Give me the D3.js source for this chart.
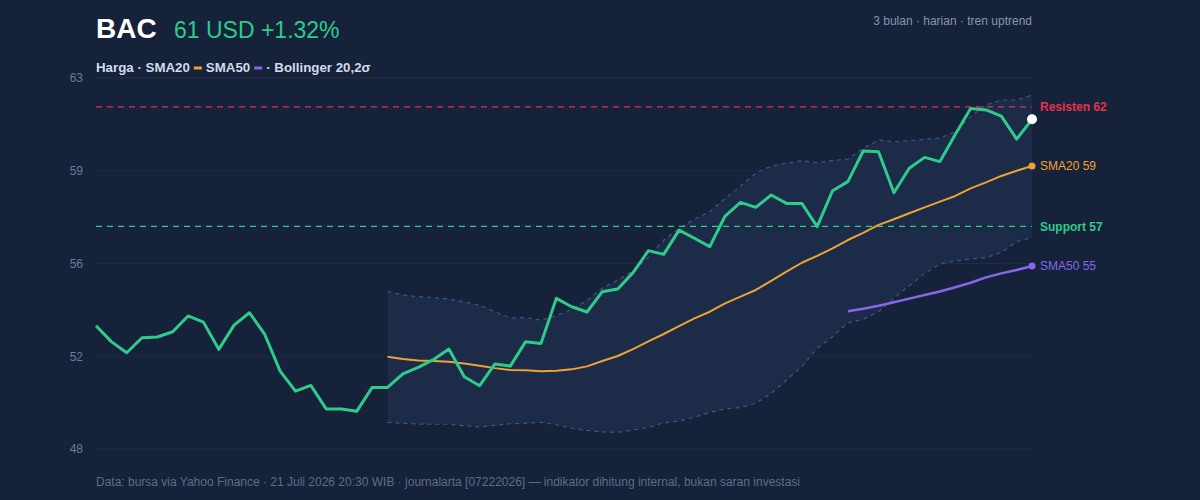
<!DOCTYPE html>
<html>
<head>
<meta charset="utf-8">
<script src="https://cdn.jsdelivr.net/npm/d3@7"></script>
<style>
  html, body { margin: 0; padding: 0; background: #152239; }
  svg { display: block; font-family: "Liberation Sans", Arial, sans-serif; }
</style>
</head>
<body>
<script>
// Harga penutupan harian (62 hari)
const price = [
  52.98, 52.34, 51.89, 52.50, 52.53, 52.74, 53.38, 53.13, 52.03, 53.01,
  53.51, 52.63, 51.15, 50.34, 50.57, 49.62, 49.62, 49.53, 50.49, 50.49,
  51.04, 51.30, 51.62, 52.04, 50.92, 50.56, 51.44, 51.35, 52.34, 52.27,
  54.09, 53.75, 53.54, 54.36, 54.47, 55.13, 56.02, 55.87, 56.85, 56.52,
  56.18, 57.42, 57.97, 57.77, 58.27, 57.93, 57.93, 56.99, 58.44, 58.81,
  60.05, 60.02, 58.36, 59.35, 59.79, 59.62, 60.72, 61.77, 61.71, 61.46,
  60.53, 61.33
];

// SMA20 dari hari ke-19
const sma20Start = 19;
const sma20 = [
  51.73, 51.64, 51.58, 51.56, 51.53, 51.46, 51.37, 51.27, 51.19, 51.18,
  51.14, 51.16, 51.22, 51.34, 51.56, 51.76, 52.04, 52.35, 52.65, 52.97,
  53.28, 53.55, 53.89, 54.16, 54.43, 54.80, 55.17, 55.53, 55.81, 56.11,
  56.45, 56.74, 57.06, 57.29, 57.53, 57.77, 58.00, 58.23, 58.54, 58.78,
  59.04, 59.25, 59.44
];

// SMA50 dari hari ke-49
const sma50Start = 49;
const sma50 = [
  53.57, 53.67, 53.79, 53.93, 54.08, 54.23, 54.37, 54.54, 54.72, 54.94,
  55.10, 55.24, 55.40
];

// Bollinger 20,2σ (mulai hari ke-19)
const bbUpper = [
  54.36, 54.23, 54.16, 54.13, 54.06, 53.95, 53.82, 53.55, 53.30, 53.31,
  53.21, 53.39, 53.65, 54.00, 54.50, 54.83, 55.19, 55.75, 56.45, 56.92,
  57.30, 57.59, 58.13, 58.63, 59.15, 59.44, 59.55, 59.66, 59.58, 59.66,
  59.72, 60.16, 60.49, 60.42, 60.46, 60.52, 60.57, 60.83, 61.44, 61.91,
  62.11, 62.11, 62.31
];
const bbLower = [
  49.08, 49.04, 49.01, 49.00, 49.00, 48.94, 48.89, 48.96, 49.02, 49.04,
  49.08, 48.98, 48.84, 48.75, 48.69, 48.67, 48.77, 48.87, 49.06, 49.13,
  49.28, 49.48, 49.62, 49.68, 49.85, 50.25, 50.79, 51.33, 52.07, 52.54,
  53.10, 53.25, 53.55, 54.09, 54.60, 55.10, 55.48, 55.61, 55.68, 55.73,
  55.95, 56.38, 56.56
];

const resistance = 61.83;
const support = 57.0;
const yTicks = [48, 51.75, 55.5, 59.25, 63];

const ticker = "BAC";
const changePct = "+1.32%";

const W = 1200, H = 500;
const margin = {top: 78, right: 168, bottom: 51, left: 96};
const innerW = W - margin.left - margin.right;
const innerH = H - margin.top - margin.bottom;

const colors = {
  bg: "#152239",
  grid: "#1f2c46",
  price: "#2fcb8b",
  sma20: "#eea235",
  sma50: "#8767e8",
  res: "#e8304c",
  sup: "#2fcb8b",
  band: "#1c2b48",
  bandLine: "#3f5680",
  axisText: "#6c7b96"
};

const svg = d3.select("body").append("svg")
  .attr("width", W)
  .attr("height", H);

svg.append("rect").attr("width", W).attr("height", H).attr("fill", colors.bg);

const g = svg.append("g")
  .attr("transform", `translate(${margin.left},${margin.top})`);

// Scales
const x = d3.scaleLinear().domain([0, price.length - 1]).range([0, innerW]);
const y = d3.scaleLinear().domain([48, 63]).range([innerH, 0]);

// Grid + y labels
g.append("g")
  .selectAll("line")
  .data(yTicks)
  .join("line")
    .attr("x1", 0).attr("x2", innerW)
    .attr("y1", d => y(d)).attr("y2", d => y(d))
    .attr("stroke", colors.grid)
    .attr("stroke-width", 1);

const yAxis = g.append("g")
  .attr("transform", "translate(-10,0)")
  .call(d3.axisLeft(y).tickValues(yTicks).tickSize(0).tickFormat(d3.format(".0f")));
yAxis.select(".domain").remove();
yAxis.selectAll("text")
  .attr("fill", colors.axisText)
  .attr("font-size", 12)
  .attr("font-family", "Liberation Sans, Arial, sans-serif");

// Bollinger band
const band = bbUpper.map((u, i) => ({i: i + sma20Start, u: u, l: bbLower[i]}));

g.append("path")
  .datum(band)
  .attr("fill", colors.band)
  .attr("d", d3.area().x(d => x(d.i)).y0(d => y(d.l)).y1(d => y(d.u)));

["u", "l"].forEach(k => {
  g.append("path")
    .datum(band)
    .attr("fill", "none")
    .attr("stroke", colors.bandLine)
    .attr("stroke-width", 1.2)
    .attr("stroke-dasharray", "4,4")
    .attr("d", d3.line().x(d => x(d.i)).y(d => y(d[k])));
});

// Resisten / support
const levels = [
  {v: resistance, color: colors.res, label: "Resisten " + resistance.toFixed(0)},
  {v: support, color: colors.sup, label: "Support " + support.toFixed(0)}
];
levels.forEach(lv => {
  g.append("line")
    .attr("x1", 0).attr("x2", innerW)
    .attr("y1", y(lv.v)).attr("y2", y(lv.v))
    .attr("stroke", lv.color)
    .attr("stroke-width", 1.3)
    .attr("stroke-dasharray", "6,5");
  g.append("text")
    .attr("x", innerW + 8)
    .attr("y", y(lv.v))
    .attr("dy", "0.35em")
    .attr("fill", lv.color)
    .attr("font-size", 12)
    .attr("font-weight", "bold")
    .text(lv.label);
});

// Moving averages
const line = d3.line().x(d => x(d[0])).y(d => y(d[1]));
const smaSets = [
  {name: "SMA20", data: sma20, start: sma20Start, color: colors.sma20, w: 2},
  {name: "SMA50", data: sma50, start: sma50Start, color: colors.sma50, w: 2.5}
];
smaSets.forEach(s => {
  const pts = s.data.map((v, i) => [i + s.start, v]);
  g.append("path")
    .datum(pts)
    .attr("fill", "none")
    .attr("stroke", s.color)
    .attr("stroke-width", s.w)
    .attr("stroke-linejoin", "round")
    .attr("d", line);
  const last = pts[pts.length - 1];
  g.append("circle")
    .attr("cx", x(last[0])).attr("cy", y(last[1]))
    .attr("r", 3.5)
    .attr("fill", s.color);
  g.append("text")
    .attr("x", innerW + 8)
    .attr("y", y(last[1]))
    .attr("dy", "0.35em")
    .attr("fill", s.color)
    .attr("font-size", 12)
    .text(s.name + " " + last[1].toFixed(0));
});

// Harga
g.append("path")
  .datum(price.map((v, i) => [i, v]))
  .attr("fill", "none")
  .attr("stroke", colors.price)
  .attr("stroke-width", 3)
  .attr("stroke-linejoin", "round")
  .attr("d", line);

g.append("circle")
  .attr("cx", x(price.length - 1))
  .attr("cy", y(price[price.length - 1]))
  .attr("r", 5)
  .attr("fill", "#ffffff");

// Header
svg.append("text")
  .attr("x", 96).attr("y", 38)
  .attr("fill", "#ffffff")
  .attr("font-size", 28)
  .attr("font-weight", "bold")
  .text(ticker);

svg.append("text")
  .attr("x", 174).attr("y", 38)
  .attr("fill", colors.price)
  .attr("font-size", 23)
  .text(price[price.length - 1].toFixed(0) + " USD " + changePct);

svg.append("text")
  .attr("x", margin.left + innerW).attr("y", 25)
  .attr("text-anchor", "end")
  .attr("fill", "#8795ae")
  .attr("font-size", 12)
  .text("3 bulan · harian · tren uptrend");

// Legend
const legendItems = [
  {text: "Harga · SMA20", swatch: colors.sma20},
  {text: "SMA50", swatch: colors.sma50},
  {text: "· Bollinger 20,2σ", swatch: null}
];
let lx = 96;
legendItems.forEach(it => {
  const t = svg.append("text")
    .attr("x", lx).attr("y", 72)
    .attr("fill", "#d3dbe8")
    .attr("font-size", 13.3)
    .attr("font-weight", "bold")
    .text(it.text);
  lx += t.node().getComputedTextLength() + 4;
  if (it.swatch) {
    svg.append("rect")
      .attr("x", lx).attr("y", 66.5)
      .attr("width", 8).attr("height", 3)
      .attr("fill", it.swatch);
    lx += 12;
  }
});

// Footer
svg.append("text")
  .attr("x", 96).attr("y", 486)
  .attr("fill", "#5d6d88")
  .attr("font-size", 12)
  .text("Data: bursa via Yahoo Finance · 21 Juli 2026 20:30 WIB · journalarta [07222026] — indikator dihitung internal, bukan saran investasi");
</script>
</body>
</html>
